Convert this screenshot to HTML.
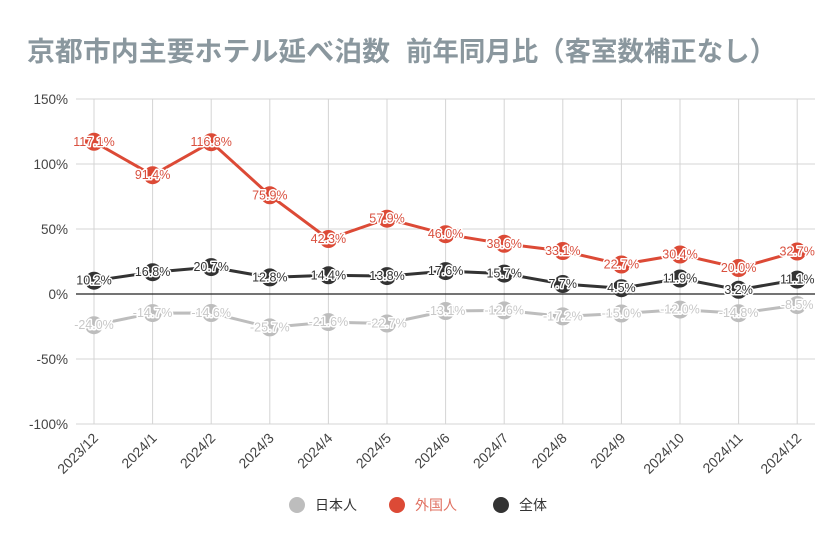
<!DOCTYPE html>
<html><head><meta charset="utf-8"><style>
html,body{margin:0;padding:0;background:#fff;}
svg{display:block;font-family:"Liberation Sans","Noto Sans CJK JP",sans-serif;}
.lbl{font-size:12.5px;text-anchor:middle;dominant-baseline:central;paint-order:stroke;stroke:#fff;stroke-width:3px;stroke-linejoin:round;}
.f{fill:#d9503f}.t{fill:#333}.j{fill:#c8c8c8}
.ax{font-size:13.5px;fill:#444}
.ttl{font-size:27px;font-weight:bold;fill:#8a979e;font-family:'Noto Sans CJK JP',sans-serif;}
</style></head><body>
<svg width="840" height="560" viewBox="0 0 840 560">
<text class="ttl" x="27" y="61" textLength="363" lengthAdjust="spacingAndGlyphs">京都市内主要ホテル延べ泊数</text>
<text class="ttl" x="406" y="61" textLength="370" lengthAdjust="spacingAndGlyphs">前年同月比（客室数補正なし）</text>
<g stroke="#d4d4d4" stroke-width="1">
<line x1="76" y1="99" x2="815" y2="99"/><line x1="76" y1="164" x2="815" y2="164"/><line x1="76" y1="229" x2="815" y2="229"/><line x1="76" y1="359" x2="815" y2="359"/><line x1="76" y1="424" x2="815" y2="424"/>
<line x1="94" y1="99" x2="94" y2="424"/><line x1="152.6" y1="99" x2="152.6" y2="424"/><line x1="211.2" y1="99" x2="211.2" y2="424"/><line x1="269.8" y1="99" x2="269.8" y2="424"/><line x1="328.4" y1="99" x2="328.4" y2="424"/><line x1="387" y1="99" x2="387" y2="424"/><line x1="445.6" y1="99" x2="445.6" y2="424"/><line x1="504.2" y1="99" x2="504.2" y2="424"/><line x1="562.8" y1="99" x2="562.8" y2="424"/><line x1="621.4" y1="99" x2="621.4" y2="424"/><line x1="680" y1="99" x2="680" y2="424"/><line x1="738.6" y1="99" x2="738.6" y2="424"/><line x1="797.2" y1="99" x2="797.2" y2="424"/>
</g>
<line x1="76" y1="294" x2="815" y2="294" stroke="#222" stroke-width="1.3"/>
<g class="ax" text-anchor="end">
<text x="68" y="104">150%</text><text x="68" y="169">100%</text><text x="68" y="234">50%</text><text x="68" y="299">0%</text><text x="68" y="364">-50%</text><text x="68" y="429">-100%</text>
</g>
<g class="ax" text-anchor="end" style="font-size:14px">
<text transform="translate(99,439) rotate(-45)">2023/12</text>
<text transform="translate(157.6,439) rotate(-45)">2024/1</text>
<text transform="translate(216.2,439) rotate(-45)">2024/2</text>
<text transform="translate(274.8,439) rotate(-45)">2024/3</text>
<text transform="translate(333.4,439) rotate(-45)">2024/4</text>
<text transform="translate(392,439) rotate(-45)">2024/5</text>
<text transform="translate(450.6,439) rotate(-45)">2024/6</text>
<text transform="translate(509.2,439) rotate(-45)">2024/7</text>
<text transform="translate(567.8,439) rotate(-45)">2024/8</text>
<text transform="translate(626.4,439) rotate(-45)">2024/9</text>
<text transform="translate(685,439) rotate(-45)">2024/10</text>
<text transform="translate(743.6,439) rotate(-45)">2024/11</text>
<text transform="translate(802.2,439) rotate(-45)">2024/12</text>
</g>
<polyline fill="none" stroke="#bdbdbd" stroke-width="3" points="94,325.2 152.6,313.1 211.2,313 269.8,327.4 328.4,322.1 387,323.5 445.6,311 504.2,310.4 562.8,316.4 621.4,313.5 680,309.6 738.6,313.2 797.2,305.1"/>
<g fill="#bdbdbd"><circle cx="94" cy="325.2" r="9"/><circle cx="152.6" cy="313.1" r="9"/><circle cx="211.2" cy="313" r="9"/><circle cx="269.8" cy="327.4" r="9"/><circle cx="328.4" cy="322.1" r="9"/><circle cx="387" cy="323.5" r="9"/><circle cx="445.6" cy="311" r="9"/><circle cx="504.2" cy="310.4" r="9"/><circle cx="562.8" cy="316.4" r="9"/><circle cx="621.4" cy="313.5" r="9"/><circle cx="680" cy="309.6" r="9"/><circle cx="738.6" cy="313.2" r="9"/><circle cx="797.2" cy="305.1" r="9"/></g>
<polyline fill="none" stroke="#dc4a36" stroke-width="3" points="94,141.8 152.6,175.2 211.2,142.2 269.8,195.3 328.4,239 387,218.7 445.6,234.2 504.2,243.8 562.8,251 621.4,264.5 680,254.5 738.6,268 797.2,251.5"/>
<g fill="#dc4a36"><circle cx="94" cy="141.8" r="9"/><circle cx="152.6" cy="175.2" r="9"/><circle cx="211.2" cy="142.2" r="9"/><circle cx="269.8" cy="195.3" r="9"/><circle cx="328.4" cy="239" r="9"/><circle cx="387" cy="218.7" r="9"/><circle cx="445.6" cy="234.2" r="9"/><circle cx="504.2" cy="243.8" r="9"/><circle cx="562.8" cy="251" r="9"/><circle cx="621.4" cy="264.5" r="9"/><circle cx="680" cy="254.5" r="9"/><circle cx="738.6" cy="268" r="9"/><circle cx="797.2" cy="251.5" r="9"/></g>
<polyline fill="none" stroke="#333" stroke-width="3" points="94,280.7 152.6,272.2 211.2,267.1 269.8,277.4 328.4,275.3 387,276.1 445.6,271.1 504.2,273.6 562.8,284 621.4,288.2 680,278.5 738.6,289.8 797.2,279.6"/>
<g fill="#333"><circle cx="94" cy="280.7" r="9"/><circle cx="152.6" cy="272.2" r="9"/><circle cx="211.2" cy="267.1" r="9"/><circle cx="269.8" cy="277.4" r="9"/><circle cx="328.4" cy="275.3" r="9"/><circle cx="387" cy="276.1" r="9"/><circle cx="445.6" cy="271.1" r="9"/><circle cx="504.2" cy="273.6" r="9"/><circle cx="562.8" cy="284" r="9"/><circle cx="621.4" cy="288.2" r="9"/><circle cx="680" cy="278.5" r="9"/><circle cx="738.6" cy="289.8" r="9"/><circle cx="797.2" cy="279.6" r="9"/></g>
<g class="lbl j">
<text x="94" y="325.2">-24.0%</text><text x="152.6" y="313.1">-14.7%</text><text x="211.2" y="313">-14.6%</text><text x="269.8" y="327.4">-25.7%</text><text x="328.4" y="322.1">-21.6%</text><text x="387" y="323.5">-22.7%</text><text x="445.6" y="311">-13.1%</text><text x="504.2" y="310.4">-12.6%</text><text x="562.8" y="316.4">-17.2%</text><text x="621.4" y="313.5">-15.0%</text><text x="680" y="309.6">-12.0%</text><text x="738.6" y="313.2">-14.8%</text><text x="797.2" y="305.1">-8.5%</text>
</g>
<g class="lbl f">
<text x="94" y="141.8">117.1%</text><text x="152.6" y="175.2">91.4%</text><text x="211.2" y="142.2">116.8%</text><text x="269.8" y="195.3">75.9%</text><text x="328.4" y="239">42.3%</text><text x="387" y="218.7">57.9%</text><text x="445.6" y="234.2">46.0%</text><text x="504.2" y="243.8">38.6%</text><text x="562.8" y="251">33.1%</text><text x="621.4" y="264.5">22.7%</text><text x="680" y="254.5">30.4%</text><text x="738.6" y="268">20.0%</text><text x="797.2" y="251.5">32.7%</text>
</g>
<g class="lbl t">
<text x="94" y="280.7">10.2%</text><text x="152.6" y="272.2">16.8%</text><text x="211.2" y="267.1">20.7%</text><text x="269.8" y="277.4">12.8%</text><text x="328.4" y="275.3">14.4%</text><text x="387" y="276.1">13.8%</text><text x="445.6" y="271.1">17.6%</text><text x="504.2" y="273.6">15.7%</text><text x="562.8" y="284">7.7%</text><text x="621.4" y="288.2">4.5%</text><text x="680" y="278.5">11.9%</text><text x="738.6" y="289.8">3.2%</text><text x="797.2" y="279.6">11.1%</text>
</g>
<circle cx="297" cy="505" r="8" fill="#bdbdbd"/><text x="315" y="510" font-size="14" fill="#333">日本人</text>
<circle cx="397" cy="505" r="8" fill="#dc4a36"/><text x="415" y="510" font-size="14" fill="#e07060">外国人</text>
<circle cx="501" cy="505" r="8" fill="#333"/><text x="519" y="510" font-size="14" fill="#333">全体</text>
</svg>
</body></html>
